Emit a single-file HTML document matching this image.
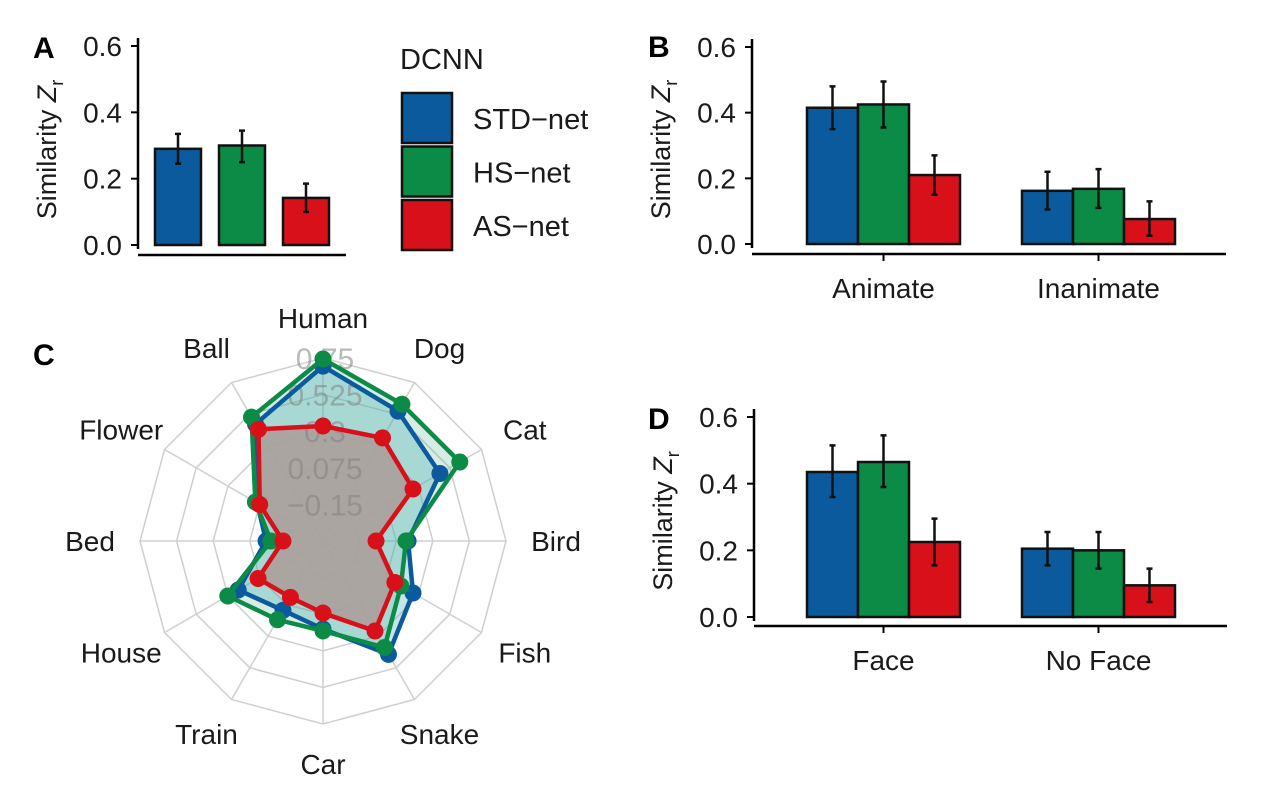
<!DOCTYPE html>
<html><head><meta charset="utf-8">
<style>
html,body{margin:0;padding:0;background:#fff;}
svg{display:block;font-family:"Liberation Sans",Arial,sans-serif;}
</style></head>
<body>
<svg id="fig" width="1264" height="792" viewBox="0 0 1264 792"></svg>
<script>
const series = ["STD-net","HS-net","AS-net"];
const colors = ["#0b5a9e","#0b8b45","#d8101a"];
// Panel A
const aValues = [0.29, 0.30, 0.142];
const aErrLo = [0.245, 0.25, 0.10];
const aErrHi = [0.335, 0.345, 0.185];
// Panel B
const bCategories = ["Animate","Inanimate"];
const bValues = [[0.415,0.425,0.21],[0.162,0.168,0.076]];
const bErrLo = [[0.35,0.355,0.15],[0.105,0.11,0.025]];
const bErrHi = [[0.48,0.495,0.27],[0.22,0.228,0.13]];
// Panel D
const dCategories = ["Face","No Face"];
const dValues = [[0.435,0.465,0.225],[0.205,0.20,0.095]];
const dErrLo = [[0.36,0.39,0.155],[0.155,0.145,0.045]];
const dErrHi = [[0.515,0.545,0.295],[0.255,0.255,0.145]];
const yTicks = ["0.0","0.2","0.4","0.6"];
// Panel C radar
const radarAxes = ["Human","Dog","Cat","Bird","Fish","Snake","Car","Train","House","Bed","Flower","Ball"];
const radarSTD = [0.70,0.547,0.455,0.148,0.264,0.43,0.166,0.117,0.227,-0.025,0.092,0.455];
const radarHS  = [0.744,0.596,0.596,0.135,0.178,0.381,0.178,0.184,0.301,-0.055,0.105,0.504];
const radarAS  = [0.332,0.357,0.264,-0.049,0.135,0.264,0.068,0.025,0.086,-0.129,0.074,0.418];
const radarRingLabels = ["-0.15","0.075","0.3","0.525","0.75"];

const FS=28;
const NS="http://www.w3.org/2000/svg";
const svg=document.getElementById('fig');
function mk(tag,attrs,parent,text){const e=document.createElementNS(NS,tag);for(const k in attrs)e.setAttribute(k,attrs[k]);if(text!==undefined)e.textContent=text;(parent||svg).appendChild(e);return e;}

function yAxis(g,x,y0,y6){
  const ys=v=>y0-(y0-y6)*v/0.6;
  let l=mk('line',{x1:x,y1:y6-8,x2:x,y2:y0+4,stroke:'#000','stroke-width':2.5},g);
  
  
  yTicks.forEach(t=>{
    const v=parseFloat(t),y=ys(v);
    let tk=mk('line',{x1:x-7,y1:y,x2:x,y2:y,stroke:'#000','stroke-width':2},g);
    
    
    let tl=mk('text',{x:x-16,y:y+10,'text-anchor':'end','font-size':FS,fill:'#1a1a1a'},g,t);
    
    
  });
  const cy=(y0+y6)/2+4;
  const tt=mk('text',{transform:`translate(${x-82},${cy}) rotate(-90)`,'text-anchor':'middle','font-size':27,fill:'#1a1a1a'},g);
  
  
  mk('tspan',{},tt,'Similarity ');
  mk('tspan',{'font-style':'italic'},tt,'Z');
  mk('tspan',{'font-size':18,dy:7},tt,'r');
  return ys;
}
function bar(g,x,w,ys,v,lo,hi,c,name){
  const r=mk('rect',{x:x,y:ys(v),width:w,height:ys(0)-ys(v),fill:c,stroke:'#111','stroke-width':2.5},g);
  
  
  const cx=x+w/2;
  const e=mk('path',{d:`M${cx},${ys(lo)}V${ys(hi)}M${cx-3},${ys(lo)}H${cx+3}M${cx-3},${ys(hi)}H${cx+3}`,stroke:'#111','stroke-width':2.5,fill:'none'},g);
  
  
}
function panelLetter(t,x,y){const e=mk('text',{x:x,y:y,'font-size':30,'font-weight':'bold',fill:'#000'},svg,t);
  
  }

// Panel A
const gA=mk('g',{});


panelLetter('A',33,58);
const ysA=yAxis(gA,138,245,46);
let xa=mk('line',{x1:138,y1:255,x2:346,y2:255,stroke:'#000','stroke-width':2.5},gA);


aValues.forEach((v,i)=>bar(gA,155+i*64,46,ysA,v,aErrLo[i],aErrHi[i],colors[i],'bar-a-'+series[i].toLowerCase()));

// Legend
const gL=mk('g',{});


let lt=mk('text',{x:400,y:69,'font-size':29,fill:'#1a1a1a'},gL,'DCNN');


series.forEach((s,i)=>{
  const y=93+i*53.5;
  const r=mk('rect',{x:402,y:y,width:50,height:50,fill:colors[i],stroke:'#111','stroke-width':2.5},gL);
  
  
  const t=mk('text',{x:473,y:y+36,'font-size':29,fill:'#1a1a1a'},gL,s.replace('-','\u2212'));
  
  
});

function groupedPanel(name,letter,lx,ly,x0,y0,y6,xAxisY,xEnd,cats,vals,lo,hi,barX0,groupGap,labelY){
  const g=mk('g',{});
  
  
  panelLetter(letter,lx,ly);
  const ys=yAxis(g,x0,y0,y6);
  let xl=mk('line',{x1:x0,y1:xAxisY,x2:xEnd,y2:xAxisY,stroke:'#000','stroke-width':2.5},g);
  
  
  const bw=51;
  cats.forEach((c,ci)=>{
    const gx=barX0+ci*groupGap;
    vals[ci].forEach((v,si)=>bar(g,gx+si*bw,bw,ys,v,lo[ci][si],hi[ci][si],colors[si],'bar-'+c.toLowerCase().replace(' ','-')+'-'+series[si].toLowerCase()));
    const cx=gx+1.5*bw;
    let tk=mk('line',{x1:cx,y1:xAxisY,x2:cx,y2:xAxisY+7,stroke:'#000','stroke-width':2},g);
    
    
    let tl=mk('text',{x:cx,y:labelY,'text-anchor':'middle','font-size':FS,fill:'#1a1a1a'},g,c);
    
    
  });
}
groupedPanel('panel-b','B',648,57,752,244,47,254,1226,bCategories,bValues,bErrLo,bErrHi,807,215,298);
groupedPanel('panel-d','D',648,429,754,617,417,626,1227,dCategories,dValues,dErrLo,dErrHi,807,215,670);

// Panel C radar
const gC=mk('g',{});


panelLetter('C',33,365);
const CX=323,CY=541,R=183,VMIN=-0.375,VMAX=0.75;
const rs=v=>(v-VMIN)/(VMAX-VMIN)*R;
const ang=i=>i*Math.PI*2/radarAxes.length;
const pt=(i,r)=>[CX+r*Math.sin(ang(i)),CY-r*Math.cos(ang(i))];
for(let k=1;k<=5;k++){
  const r=R*k/5;
  const p=radarAxes.map((_,i)=>pt(i,r).join(',')).join(' ');
  const e=mk('polygon',{points:p,fill:'none',stroke:'#cfcfcf','stroke-width':1.5},gC);
  
  
}
radarAxes.forEach((a,i)=>{
  const [x,y]=pt(i,R);
  const e=mk('line',{x1:CX,y1:CY,x2:x,y2:y,stroke:'#cfcfcf','stroke-width':1.5},gC);
  
  
  const lx=CX+233*Math.sin(ang(i)), ly=CY-223*Math.cos(ang(i));
  const t=mk('text',{x:lx,y:ly+10,'text-anchor':'middle','font-size':FS,fill:'#1a1a1a'},gC,a);
  
  
});
const radarSeries=[radarSTD,radarHS,radarAS];
const fills=["rgba(90,180,190,0.35)","rgba(70,175,140,0.22)","rgba(170,160,155,0.9)"];
radarSeries.forEach((vals,si)=>{
  const pts=vals.map((v,i)=>pt(i,rs(v)));
  const p=pts.map(q=>q.join(',')).join(' ');
  const f=mk('polygon',{points:p,fill:fills[si],stroke:'none'},gC);
  
  
});
radarRingLabels.forEach((t,k)=>{
  const e=mk('text',{x:CX+2,y:CY-R*(k+1)/5+11,'text-anchor':'middle','font-size':30,fill:'rgba(130,130,130,0.55)'},gC,t.replace('-','\u2212'));
  
  
});
radarSeries.forEach((vals,si)=>{
  const pts=vals.map((v,i)=>pt(i,rs(v)));
  const p=pts.map(q=>q.join(',')).join(' ');
  const l=mk('polygon',{points:p,fill:'none',stroke:colors[si],'stroke-width':4.5,'stroke-linejoin':'round'},gC);
  
  
  pts.forEach((q,i)=>{
    const c=mk('circle',{cx:q[0],cy:q[1],r:8.5,fill:colors[si]},gC);
    
    
  });
});
</script>
</body></html>
